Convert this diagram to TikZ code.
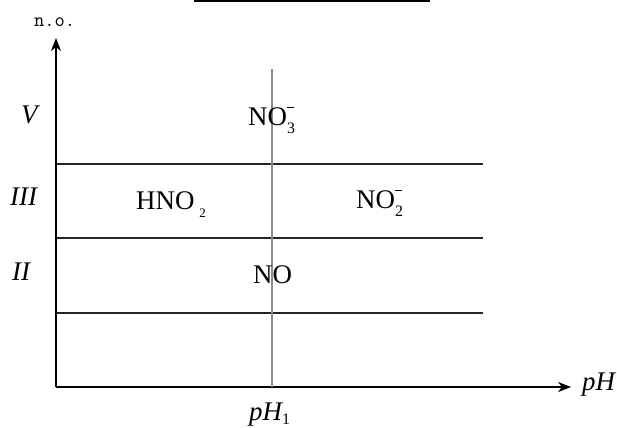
\documentclass[tikz,border=0pt]{standalone}
\usepackage{fontspec}
\setmainfont{Liberation Serif}
\usetikzlibrary{arrows.meta}

% lowered subscript and stacked charge for ion formulas
\newcommand\chsub[3][16]{\raisebox{-#2}{\fontsize{#1}{#1}\selectfont #3}}
\newcommand\chion[1]{\rlap{\raisebox{17bp}{\rule{6.5bp}{1.1bp}}}\chsub{8bp}{#1}}

\tikzset{
  x=1bp, y=-1bp,
  axis/.style={line width=1.6bp, black, -{Stealth[length=13bp,width=10bp,inset=4bp]}},
  level/.style={line width=1.3bp, black!85},
  divider/.style={line width=1.6bp, black!45},
  species/.style={anchor=base west, inner sep=0pt, font=\fontsize{27}{27}\selectfont},
  state/.style={anchor=base west, inner sep=0pt, font=\fontsize{27}{27}\selectfont\itshape},
  frame/.style={line width=2.2bp, black}
}

\begin{document}
\begin{tikzpicture}
\useasboundingbox (0,0) rectangle (617,427);
\clip (0,0) rectangle (617,427);

% cut-off table edge along the top
\draw[frame] (195,-30) rectangle (429,1.2);
\draw[frame] (293,-30) -- (293,1.2);

% axes
\coordinate (origin) at (56,387);
\coordinate (ytip) at (56,38);
\coordinate (xtip) at (571,387);
\draw[axis] (origin) -- (ytip);
\draw[axis] (origin) -- (xtip);

% oxidation-state boundaries
\coordinate (l1a) at (57,164); \coordinate (l1b) at (483,164);
\coordinate (l2a) at (57,238); \coordinate (l2b) at (483,238);
\coordinate (l3a) at (57,313); \coordinate (l3b) at (483,313);
\draw[level] (l1a) -- (l1b);
\draw[level] (l2a) -- (l2b);
\draw[level] (l3a) -- (l3b);

% pH boundary
\coordinate (vtop) at (272,69);
\coordinate (vbot) at (272,387);
\draw[divider] (vtop) -- (vbot);

% axis labels
\node[anchor=base west, inner sep=0pt, font=\ttfamily\fontsize{20}{20}\selectfont] (nolab) at (34,26) {n.o.};
\node[state] (phlab) at (582,390) {pH};
\node[state] (ph1) at (249,420) {pH\chsub{4bp}{\upshape 1}};

% oxidation states
\node[state] (sV) at (21,123) {V};
\node[state] (sIII) at (10,205) {III};
\node[state] (sII) at (12,280) {II};

% species
\node[species] (no3) at (248,125) {NO\chion{3}};
\node[species] (hno2) at (136,209) {HNO\hspace{5bp}\chsub[13]{8bp}{2}};
\node[species] (no2) at (356,208) {NO\chion{2}};
\node[species] (no) at (253,283) {NO};
\end{tikzpicture}
\end{document}
